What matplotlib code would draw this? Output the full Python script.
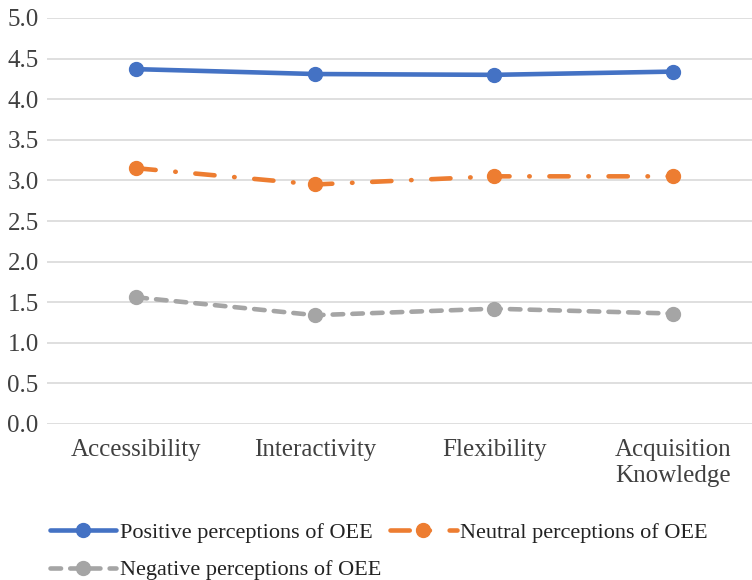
import numpy as np
import matplotlib.pyplot as plt

# Datos
categorias = ['Accessibility', 'Interactivity', 'Flexibility', 'Acquisition\nKnowledge']
positivas = [4.37, 4.31, 4.30, 4.34]
neutrales = [3.15, 2.95, 3.05, 3.05]
negativas = [1.56, 1.34, 1.42, 1.36]
ticks_y = [0.0, 0.5, 1.0, 1.5, 2.0, 2.5, 3.0, 3.5, 4.0, 4.5, 5.0]

plt.rcParams['font.family'] = ['Liberation Serif', 'DejaVu Serif']

fig = plt.figure(figsize=(7.52, 5.8), dpi=100)
ax = fig.add_axes([47 / 752, 1 - 424 / 580, 1 - 47 / 752, (424 - 18) / 580])

x = np.arange(len(categorias))
l1, = ax.plot(x, positivas, color='#4472C4', lw=3.3, marker='o', ms=10,
              solid_capstyle='round', label='Positive perceptions of OEE')
l2, = ax.plot(x, neutrales, color='#ED7D31', lw=3.3, marker='o', ms=10,
              linestyle=(0, (4.2, 4.3, 0.1, 4.3)), dash_capstyle='round',
              label='Neutral perceptions of OEE')
l3, = ax.plot(x, negativas, color='#A5A5A5', lw=3.3, marker='o', ms=10,
              linestyle=(0, (2.3, 2.0)), dash_capstyle='round',
              label='Negative perceptions of OEE')

ax.set_xlim(-0.5, 3.44)
ax.set_ylim(0, 5)
ax.set_yticks(ticks_y)
ax.set_yticklabels([f'{v:.1f}' for v in ticks_y])
ax.set_xticks(x)
ax.set_xticklabels(categorias)
ax.tick_params(axis='both', length=0, labelsize=18, labelcolor='#404040')
ax.tick_params(axis='y', pad=6)
ax.tick_params(axis='x', pad=11)
ax.yaxis.grid(True, color='#d9d9d9', lw=1.2)
ax.set_axisbelow(True)
for s in ax.spines.values():
    s.set_visible(False)

fig.legend([l1, l3, l2], [l1.get_label(), l3.get_label(), l2.get_label()],
           ncol=2, loc='upper left', bbox_to_anchor=(43 / 752, 1 - 516 / 580),
           frameon=False, fontsize=16, handlelength=3.0, handletextpad=0.15,
           columnspacing=0.4, labelspacing=0.75, labelcolor='#222222',
           borderaxespad=0, borderpad=0.3)

fig.savefig('out.png', dpi=100)
